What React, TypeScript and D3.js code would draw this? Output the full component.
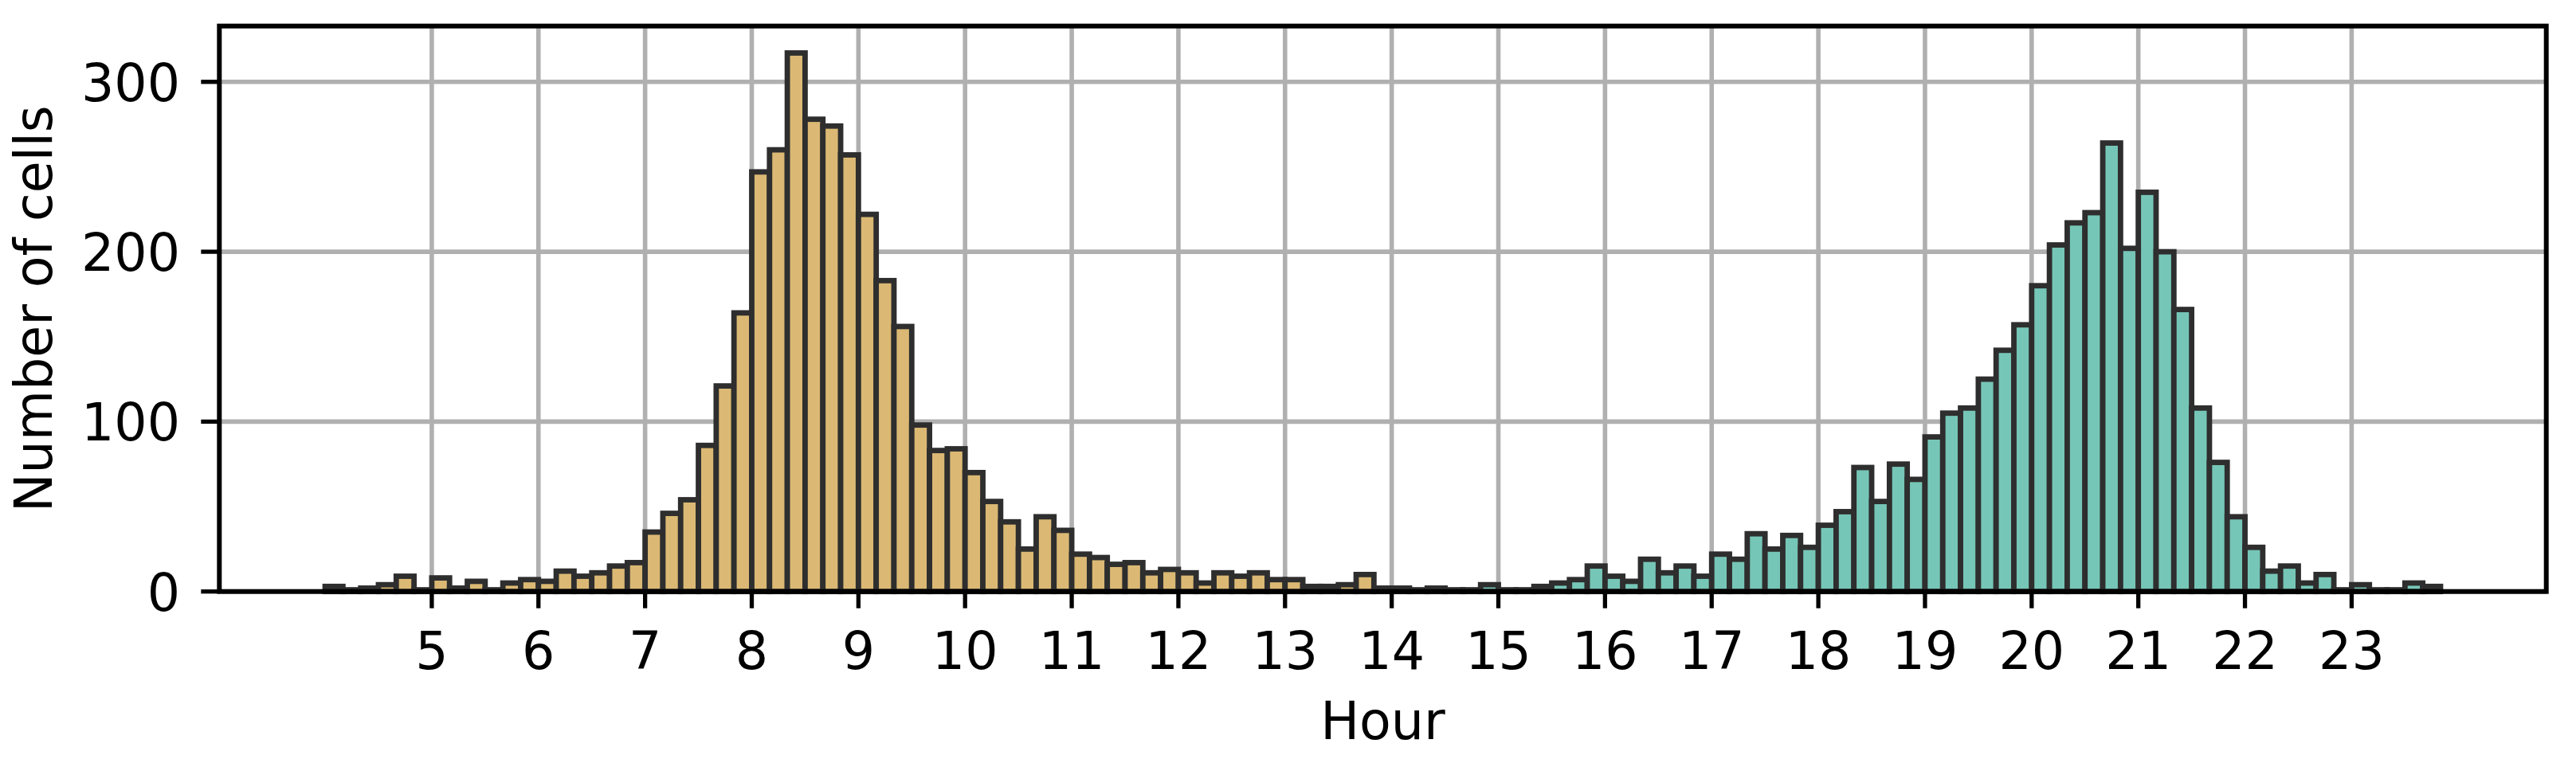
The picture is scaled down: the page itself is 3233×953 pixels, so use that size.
import React, { useEffect } from 'react';
import * as d3 from 'd3';

// 10 minute bins starting at 4:00
const binStart = 4;
const binWidth = 1 / 6;

// morning cells, bins from 4:00 to 14:20
const morningCounts = [
  3, 1, 2, 4, 9, 1,
  8, 2, 6, 1, 5, 7,
  6, 12, 9, 11, 15, 17,
  35, 46, 54, 86, 121, 164,
  247, 260, 317, 278, 274, 257,
  222, 183, 156, 98, 83, 84,
  70, 53, 41, 25, 44, 36,
  22, 20, 16, 17, 11, 13,
  11, 5, 11, 9, 11, 7,
  7, 3, 3, 4, 10, 2,
  2, 1, 2,
];

// evening cells, bins from 14:30 to 23:40
const eveningCounts = [
  1, 1, 4,
  1, 1, 3, 5, 7, 15,
  9, 6, 19, 11, 15, 9,
  22, 19, 34, 25, 33, 26,
  39, 47, 73, 53, 75, 66,
  91, 105, 108, 125, 142, 157,
  180, 204, 217, 223, 264, 202,
  235, 200, 166, 108, 76, 44,
  26, 12, 15, 5, 10, 1,
  4, 1, 1, 5, 3,
];

const hourTicks = d3.range(5, 24);
const countTicks = [0, 100, 200, 300];

const W = 3233;
const H = 953;
const plot = { left: 275.3, right: 3195.7, top: 32.7, bottom: 742.7 };
const font = '"DejaVu Sans", sans-serif';

const App = () => {
  useEffect(() => {
    document.body.style.margin = '0';
    document.body.style.overflow = 'hidden';
  }, []);

  const bins = [
    ...morningCounts.map((c, i) => ({ x0: binStart + i * binWidth, count: c, fill: '#dbb974' })),
    ...eveningCounts.map((c, i) => ({
      x0: binStart + (morningCounts.length + i) * binWidth,
      count: c,
      fill: '#76c6b7',
    })),
  ];

  // matplotlib style 5% margins on x, top on y
  const lo = binStart;
  const hi = binStart + bins.length * binWidth;
  const pad = (hi - lo) * 0.05;
  const x = d3.scaleLinear().domain([lo - pad, hi + pad]).range([plot.left, plot.right]);
  const yMax = d3.max(bins, d => d.count) * 1.05;
  const y = d3.scaleLinear().domain([0, yMax]).range([plot.bottom, plot.top]);

  return (
    <svg width={W} height={H} style={{ position: 'absolute', left: 0, top: 0, background: '#fff' }}>
      <rect width={W} height={H} fill="#fff" />
      <g stroke="#b0b0b0" strokeWidth={5.6}>
        {hourTicks.map(h => (
          <line key={'gx' + h} x1={x(h)} x2={x(h)} y1={plot.top} y2={plot.bottom} />
        ))}
        {countTicks.map(c => (
          <line key={'gy' + c} x1={plot.left} x2={plot.right} y1={y(c)} y2={y(c)} />
        ))}
      </g>
      <g stroke="#2e2e2e" strokeWidth={6.8}>
        {bins.map((b, i) => (
          <rect
            key={'bar' + i}
            x={x(b.x0)}
            y={y(b.count)}
            width={x(b.x0 + binWidth) - x(b.x0)}
            height={y(0) - y(b.count)}
            fill={b.fill}
          />
        ))}
      </g>
      <rect
        x={plot.left}
        y={plot.top}
        width={plot.right - plot.left}
        height={plot.bottom - plot.top}
        fill="none"
        stroke="#000"
        strokeWidth={6}
      />
      <g stroke="#000" strokeWidth={5.3}>
        {hourTicks.map(h => (
          <line key={'tx' + h} x1={x(h)} x2={x(h)} y1={plot.bottom} y2={plot.bottom + 21} />
        ))}
        {countTicks.map(c => (
          <line key={'ty' + c} x1={plot.left - 23} x2={plot.left} y1={y(c)} y2={y(c)} />
        ))}
      </g>
      <g fontFamily={font} fontSize={65} fill="#000">
        {hourTicks.map(h => (
          <text key={'lx' + h} x={x(h)} y={840} textAnchor="middle">{h}</text>
        ))}
        {countTicks.map(c => (
          <text key={'ly' + c} x={226} y={y(c) + 24} textAnchor="end">{c}</text>
        ))}
        <text x={(plot.left + plot.right) / 2} y={928} textAnchor="middle">Hour</text>
        <text
          transform={`translate(65,${(plot.top + plot.bottom) / 2}) rotate(-90)`}
          textAnchor="middle"
        >
          Number of cells
        </text>
      </g>
    </svg>
  );
};

export default App;
